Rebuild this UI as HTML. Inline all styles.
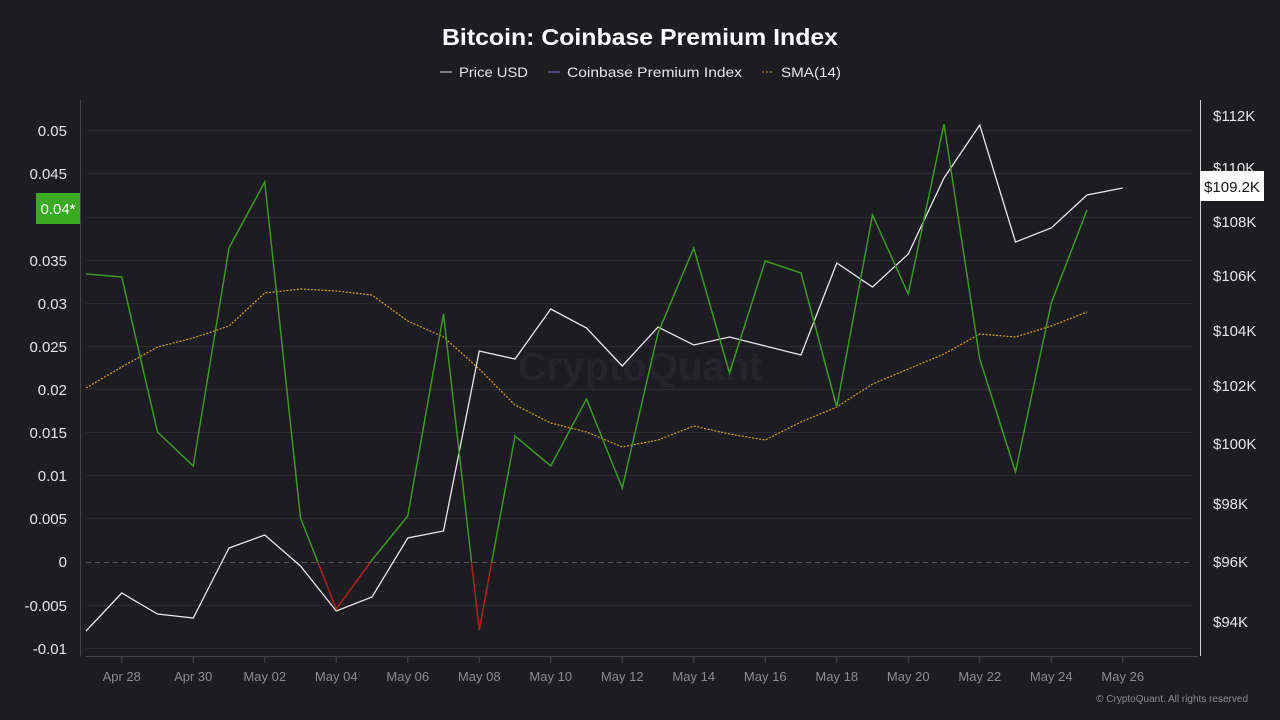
<!DOCTYPE html>
<html><head><meta charset="utf-8"><style>
html,body{margin:0;padding:0;background:#1c1c21;}
svg{display:block;font-family:"Liberation Sans",sans-serif;}
</style></head><body>
<svg width="1280" height="720" viewBox="0 0 1280 720">
<rect width="1280" height="720" fill="#1c1c21"/>
<text x="442" y="45" textLength="396" lengthAdjust="spacingAndGlyphs" fill="#fff" font-size="23" font-weight="bold">Bitcoin: Coinbase Premium Index</text>
<g font-size="14" fill="#e6e6e6">
<line x1="440" y1="72" x2="452" y2="72" stroke="#ddd"/><text x="459" y="77" textLength="69" lengthAdjust="spacingAndGlyphs">Price USD</text>
<line x1="548" y1="72" x2="560" y2="72" stroke="#7b6fd6"/><text x="567" y="77" textLength="175" lengthAdjust="spacingAndGlyphs">Coinbase Premium Index</text>
<line x1="762" y1="72" x2="774" y2="72" stroke="#d4a017" stroke-dasharray="2,2"/><text x="781" y="77" textLength="60" lengthAdjust="spacingAndGlyphs">SMA(14)</text>
</g>
<g stroke="#2a2a30" stroke-width="1">
<line x1="86" y1="130.5" x2="1193" y2="130.5"/><line x1="86" y1="173.5" x2="1193" y2="173.5"/>
<line x1="86" y1="217.5" x2="1193" y2="217.5"/><line x1="86" y1="260.5" x2="1193" y2="260.5"/>
<line x1="86" y1="303.5" x2="1193" y2="303.5"/><line x1="86" y1="346.5" x2="1193" y2="346.5"/>
<line x1="86" y1="389.5" x2="1193" y2="389.5"/><line x1="86" y1="432.5" x2="1193" y2="432.5"/>
<line x1="86" y1="475.5" x2="1193" y2="475.5"/><line x1="86" y1="518.5" x2="1193" y2="518.5"/>
<line x1="86" y1="605.5" x2="1193" y2="605.5"/><line x1="86" y1="648.5" x2="1193" y2="648.5"/>
</g>
<line x1="86" y1="562.5" x2="1193" y2="562.5" stroke="#55555c" stroke-dasharray="5,4"/>
<line x1="80.5" y1="100" x2="80.5" y2="656" stroke="#44444c"/>
<line x1="1200.5" y1="100" x2="1200.5" y2="656" stroke="#cfcfd4"/>
<line x1="86" y1="656.5" x2="1198" y2="656.5" stroke="#44444c"/>
<g stroke="#44444c">
<line x1="121.75" y1="656" x2="121.75" y2="663"/><line x1="193.25" y1="656" x2="193.25" y2="663"/><line x1="264.75" y1="656" x2="264.75" y2="663"/><line x1="336.25" y1="656" x2="336.25" y2="663"/><line x1="407.75" y1="656" x2="407.75" y2="663"/><line x1="479.25" y1="656" x2="479.25" y2="663"/><line x1="550.75" y1="656" x2="550.75" y2="663"/><line x1="622.25" y1="656" x2="622.25" y2="663"/><line x1="693.75" y1="656" x2="693.75" y2="663"/><line x1="765.25" y1="656" x2="765.25" y2="663"/><line x1="836.75" y1="656" x2="836.75" y2="663"/><line x1="908.25" y1="656" x2="908.25" y2="663"/><line x1="979.75" y1="656" x2="979.75" y2="663"/><line x1="1051.25" y1="656" x2="1051.25" y2="663"/><line x1="1122.75" y1="656" x2="1122.75" y2="663"/>
</g>
<g font-size="13" fill="#8a8a92" text-anchor="middle">
<text x="121.75" y="681">Apr 28</text><text x="193.25" y="681">Apr 30</text><text x="264.75" y="681">May 02</text><text x="336.25" y="681">May 04</text><text x="407.75" y="681">May 06</text><text x="479.25" y="681">May 08</text><text x="550.75" y="681">May 10</text><text x="622.25" y="681">May 12</text><text x="693.75" y="681">May 14</text><text x="765.25" y="681">May 16</text><text x="836.75" y="681">May 18</text><text x="908.25" y="681">May 20</text><text x="979.75" y="681">May 22</text><text x="1051.25" y="681">May 24</text><text x="1122.75" y="681">May 26</text>
</g>
<g font-size="15" fill="#e6e6e6" text-anchor="end">
<text x="67" y="136">0.05</text><text x="67" y="179">0.045</text><text x="67" y="266">0.035</text><text x="67" y="309">0.03</text><text x="67" y="352">0.025</text><text x="67" y="395">0.02</text><text x="67" y="438">0.015</text><text x="67" y="481">0.01</text><text x="67" y="524">0.005</text><text x="67" y="567">0</text><text x="67" y="611">-0.005</text><text x="67" y="654">-0.01</text>
</g>
<rect x="36" y="193" width="44" height="31" fill="#3aaa22"/>
<text x="58" y="214" font-size="15" fill="#fff" text-anchor="middle">0.04*</text>
<g font-size="15" fill="#e6e6e6">
<text x="1213" y="121">$112K</text><text x="1213" y="173">$110K</text><text x="1213" y="227">$108K</text><text x="1213" y="281">$106K</text><text x="1213" y="336">$104K</text><text x="1213" y="391">$102K</text><text x="1213" y="449">$100K</text><text x="1213" y="509">$98K</text><text x="1213" y="567">$96K</text><text x="1213" y="627">$94K</text>
</g>
<text x="640" y="380" font-size="40" font-weight="bold" fill="#242429" text-anchor="middle">CryptoQuant</text>
<defs>
<clipPath id="above"><rect x="0" y="0" width="1280" height="562.5"/></clipPath>
<clipPath id="below"><rect x="0" y="562.5" width="1280" height="200"/></clipPath>
</defs>
<polyline fill="none" stroke="#d4a017" stroke-width="1.2" stroke-dasharray="2,1.5" points="86,388 121.75,367 157.5,347 193.25,338 229,326 264.75,293 300.5,289 336.25,291 372,295 407.75,321 443.5,337 479.25,369 515,405 550.75,423 586.5,432 622.25,447 658,440 693.75,426 729.5,434 765.25,440 801,422 836.75,407 872.5,384 908.25,369 944,354 979.75,334 1015.5,337 1051.25,326 1087,312"/>
<polyline fill="none" stroke="#e8e8e8" stroke-width="1.3" points="86,631 121.75,593 157.5,614 193.25,618 229,548 264.75,535 300.5,566 336.25,611 372,597 407.75,538 443.5,531 479.25,351 515,359 550.75,309 586.5,328 622.25,366 658,327 693.75,345 729.5,337 765.25,346 801,355 836.75,263 872.5,287 908.25,254 944,178 979.75,125 1015.5,242 1051.25,228 1087,195 1122.75,188"/>
<g fill="none" stroke-width="1.5">
<polyline clip-path="url(#above)" stroke="#3a9a20" points="86,274 121.75,277 157.5,432 193.25,466 229,248 264.75,182 300.5,518 336.25,609 372,560 407.75,516 443.5,314 479.25,630 515,436 550.75,466 586.5,399 622.25,488 658,333 693.75,248 729.5,373 765.25,261 801,273 836.75,407 872.5,215 908.25,294 944,124 979.75,359 1015.5,472 1051.25,303 1087,210"/>
<polyline clip-path="url(#below)" stroke="#b02020" points="86,274 121.75,277 157.5,432 193.25,466 229,248 264.75,182 300.5,518 336.25,609 372,560 407.75,516 443.5,314 479.25,630 515,436 550.75,466 586.5,399 622.25,488 658,333 693.75,248 729.5,373 765.25,261 801,273 836.75,407 872.5,215 908.25,294 944,124 979.75,359 1015.5,472 1051.25,303 1087,210"/>
</g>
<rect x="1200" y="171" width="64" height="30" fill="#fff"/>
<text x="1232" y="192" font-size="15" fill="#111" text-anchor="middle">$109.2K</text>
<text x="1248" y="702" font-size="10" fill="#8a8a92" text-anchor="end">© CryptoQuant. All rights reserved</text>
</svg>
</body></html>
